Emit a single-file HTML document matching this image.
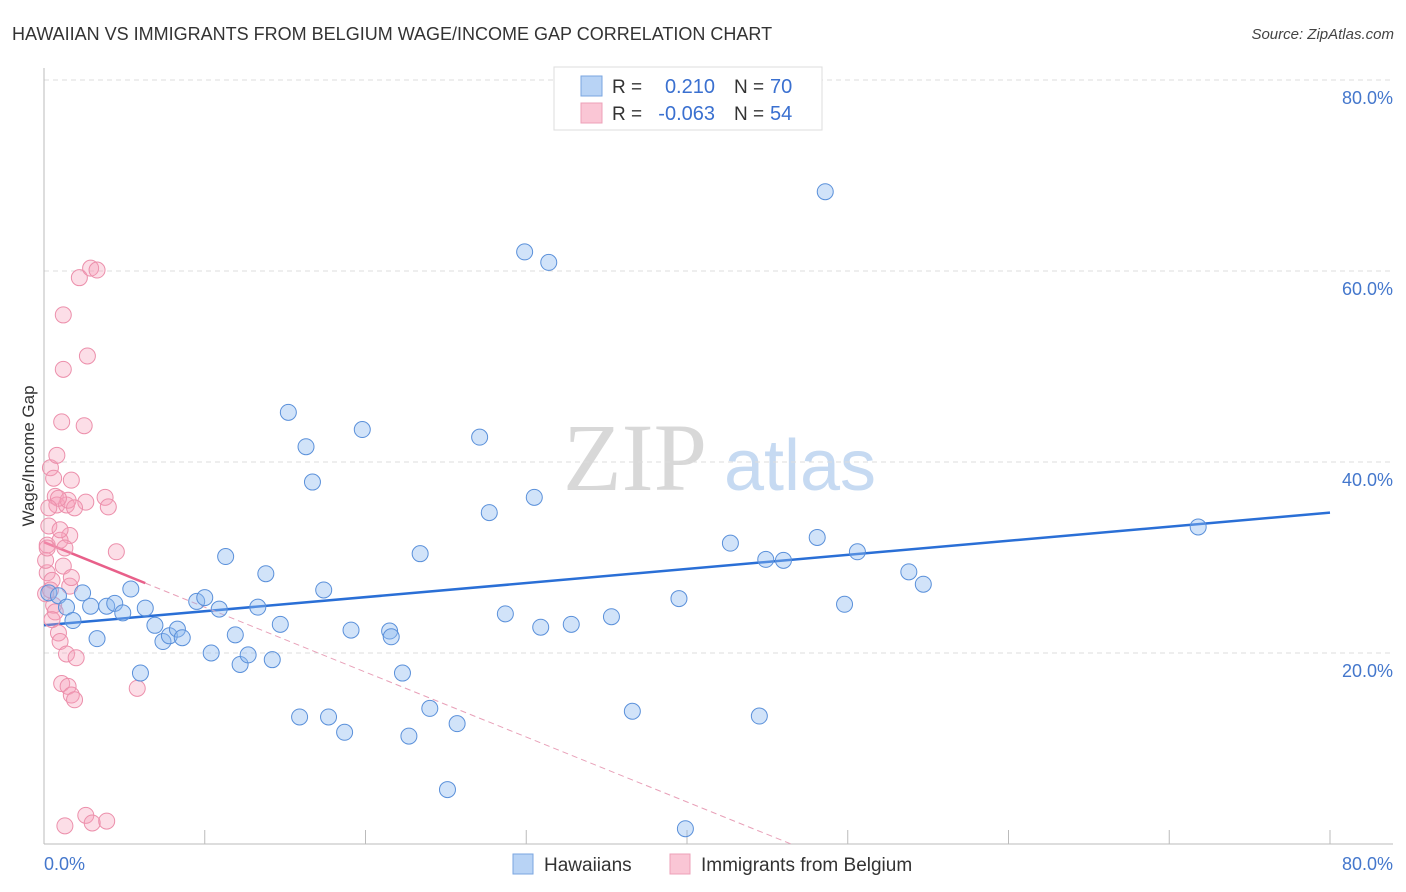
<!DOCTYPE html>
<html><head><meta charset="utf-8"><style>
body{margin:0;background:#fff;font-family:"Liberation Sans",sans-serif;}
svg{display:block}
</style></head><body>
<svg id="chart" width="1406" height="892" xmlns="http://www.w3.org/2000/svg">
<text x="12" y="40" font-size="18" fill="#333">HAWAIIAN VS IMMIGRANTS FROM BELGIUM WAGE/INCOME GAP CORRELATION CHART</text>
<text x="1394" y="39" font-size="15" fill="#444" text-anchor="end" font-style="italic">Source: ZipAtlas.com</text>
<g>
<text x="635" y="490" font-size="96" font-family="Liberation Serif,serif" fill="#d8d8d8" text-anchor="middle">ZIP</text>
<text x="800" y="490" font-size="72" fill="#c6daf2" text-anchor="middle">atlas</text>
</g>
<g id="grid"></g>
<g id="axes"></g>
<g id="trend"></g>
<g id="pts"></g>
<text transform="translate(34,456) rotate(-90)" font-size="17" fill="#333" text-anchor="middle">Wage/Income Gap</text>
<text x="44" y="870" font-size="18" fill="#4477cc">0.0%</text>
<text x="1393" y="870" font-size="18" fill="#4477cc" text-anchor="end">80.0%</text>
<g>
<rect x="554" y="67" width="268" height="63" fill="#fff" stroke="#ddd"/>
<rect x="581" y="76" width="21" height="20" fill="#b8d3f5" stroke="#7aa6e0"/>
<rect x="581" y="103" width="21" height="20" fill="#fac6d5" stroke="#eda0b8"/>
<text x="612" y="93" font-size="19" fill="#333">R =</text>
<text x="715" y="93" font-size="20" fill="#3a70d0" text-anchor="end">0.210</text>
<text x="734" y="93" font-size="19" fill="#333">N =</text>
<text x="770" y="93" font-size="20" fill="#3a70d0">70</text>
<text x="612" y="120" font-size="19" fill="#333">R =</text>
<text x="715" y="120" font-size="20" fill="#3a70d0" text-anchor="end">-0.063</text>
<text x="734" y="120" font-size="19" fill="#333">N =</text>
<text x="770" y="120" font-size="20" fill="#3a70d0">54</text>
</g>
<g>
<rect x="513" y="854" width="20" height="20" fill="#b8d3f5" stroke="#7aa6e0"/>
<text x="544" y="871" font-size="19" fill="#333">Hawaiians</text>
<rect x="670" y="854" width="20" height="20" fill="#fac6d5" stroke="#eda0b8"/>
<text x="701" y="871" font-size="19" fill="#333">Immigrants from Belgium</text>
</g>
</svg>
<script>
const blueX=[0.3,0.9,1.4,1.8,2.4,2.9,3.3,3.9,4.4,4.9,5.4,6.0,6.3,6.9,7.4,7.8,8.3,8.6,9.5,10.0,10.4,10.9,11.3,11.9,12.2,12.7,13.3,13.8,14.2,14.7,15.2,15.9,16.3,16.7,17.4,17.7,18.7,19.1,19.8,21.5,21.6,22.3,22.7,23.4,24.0,25.1,25.7,27.1,27.7,28.7,29.9,30.5,30.9,31.4,32.8,35.3,36.6,39.5,39.9,42.7,44.5,44.9,46.0,48.1,48.6,49.8,50.6,53.8,54.7,71.8];
const blueY=[26.3,26.0,24.8,23.4,26.3,24.9,21.5,24.9,25.2,24.2,26.7,17.9,24.7,22.9,21.2,21.8,22.5,21.6,25.4,25.8,20.0,24.6,30.1,21.9,18.8,19.8,24.8,28.3,19.3,23.0,45.2,13.3,41.6,37.9,26.6,13.3,11.7,22.4,43.4,22.3,21.7,17.9,11.3,30.4,14.2,5.7,12.6,42.6,34.7,24.1,62.0,36.3,22.7,60.9,23.0,23.8,13.9,25.7,1.6,31.5,13.4,29.8,29.7,32.1,68.3,25.1,30.6,28.5,27.2,33.2];
const pinkX=[0.1,0.2,0.3,0.4,0.7,0.8,0.2,0.5,0.6,0.7,0.9,1.0,1.1,1.2,1.2,1.4,1.5,1.6,0.9,1.0,1.2,1.3,0.8,1.6,1.7,1.7,1.1,1.4,1.5,1.7,1.9,2.0,2.2,2.5,2.6,2.7,2.9,3.3,3.8,4.0,4.5,5.8,1.3,2.6,3.0,3.9,0.5,0.4,0.1,0.6,1.0,0.3,1.9,0.2];
const pinkY=[26.2,28.4,33.3,39.4,36.4,35.5,31.3,27.6,25.0,24.3,22.1,21.2,16.8,49.7,55.4,35.5,36.0,32.3,36.2,31.8,29.1,31.0,40.7,27.0,27.9,38.1,44.2,19.9,16.5,15.6,15.1,19.5,59.3,43.8,35.8,51.1,60.3,60.1,36.3,35.3,30.6,16.3,1.9,3.0,2.2,2.4,23.5,26.6,29.7,38.3,32.9,35.2,35.2,31.0];
const blueTrend=[22.9,34.7];
const pinkTrend=[31.6,-0.68];
const yTicks=[20,40,60,80];
const xTicks=[0,10,20,30,40,50,60,70,80];
const NS="http://www.w3.org/2000/svg";
const sx=v=>44+v*16.075, sy=v=>844-v*9.55;
function mk(t,a,p){const e=document.createElementNS(NS,t);for(const k in a)e.setAttribute(k,a[k]);document.getElementById(p).appendChild(e);return e;}
yTicks.forEach(t=>{
 const l=mk('line',{x1:44,x2:1393,y1:sy(t),y2:sy(t),stroke:'#ddd','stroke-dasharray':'5,4'},'grid');
 
 
 const tx=mk('text',{x:1393,y:sy(t)+24,'font-size':18,fill:'#4477cc','text-anchor':'end'},'grid');
 tx.textContent=t.toFixed(1)+'%';
 
 
});
const ya=mk('line',{x1:44,x2:44,y1:68,y2:844,stroke:'#bbb'},'axes');


const xa=mk('line',{x1:44,x2:1393,y1:844,y2:844,stroke:'#bbb'},'axes');


xTicks.forEach(t=>{
 const l=mk('line',{x1:sx(t),x2:sx(t),y1:830,y2:844,stroke:'#bbb'},'axes');
 
 
});
const bt=mk('line',{x1:sx(0),y1:sy(blueTrend[0]),x2:sx(80),y2:sy(blueTrend[1]),stroke:'#2a6fd6','stroke-width':2.5},'trend');


const xEnd=-pinkTrend[0]/pinkTrend[1];
const pd=mk('line',{x1:sx(6.3),y1:sy(pinkTrend[0]+pinkTrend[1]*6.3),x2:sx(xEnd),y2:sy(0),stroke:'#e8a0b8','stroke-width':1,'stroke-dasharray':'6,4'},'trend');


const ps=mk('line',{x1:sx(0),y1:sy(pinkTrend[0]),x2:sx(6.3),y2:sy(pinkTrend[0]+pinkTrend[1]*6.3),stroke:'#e8608a','stroke-width':2.5},'trend');


pinkX.forEach((x,i)=>{
 const c=mk('circle',{cx:sx(x),cy:sy(pinkY[i]),r:8,fill:'rgba(245,160,185,0.35)',stroke:'#ec8fab','stroke-width':1},'pts');
 
 
});
blueX.forEach((x,i)=>{
 const c=mk('circle',{cx:sx(x),cy:sy(blueY[i]),r:8,fill:'rgba(140,185,240,0.4)',stroke:'#5a90da','stroke-width':1},'pts');
 
 
});
</script>
</body></html>
